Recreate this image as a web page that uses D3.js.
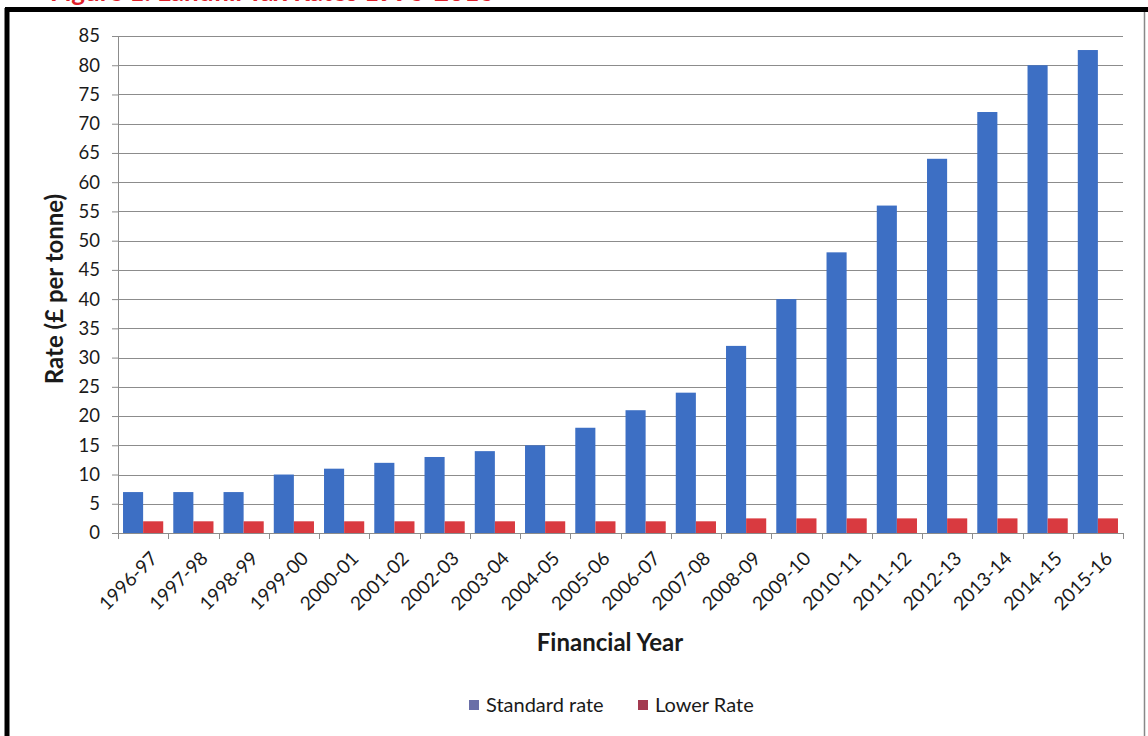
<!DOCTYPE html>
<html><head><meta charset="utf-8">
<script src="https://cdn.jsdelivr.net/npm/d3@7"></script>
<style>
html,body{margin:0;padding:0;background:#fff;}
svg{display:block;}
text{font-family:Lato,"Open Sans",sans-serif;fill:#1a1a1a;}
</style></head>
<body>
<svg id="chart" width="1148" height="736"></svg>
<script>
const categories = ["1996-97","1997-98","1998-99","1999-00","2000-01","2001-02","2002-03","2003-04","2004-05","2005-06","2006-07","2007-08","2008-09","2009-10","2010-11","2011-12","2012-13","2013-14","2014-15","2015-16"];
const standardRate = [7,7,7,10,11,12,13,14,15,18,21,24,32,40,48,56,64,72,80,82.6];
const lowerRate = [2,2,2,2,2,2,2,2,2,2,2,2,2.5,2.5,2.5,2.5,2.5,2.5,2.5,2.5];
const seriesNames = ["Standard rate","Lower Rate"];
const yTicks = d3.range(0, 86, 5);

const svg = d3.select("#chart");
const W = 1148, H = 736;
const m = {left:118, right:1123, top:36, bottom:533};

// partially cut-off title at top (only its lower edge is visible in the reference)
svg.append("text").attr("x",50).attr("y",1)
  .style("font-weight","bold").style("font-size","26px").style("fill","#e0202a")
  .text("Figure 1: Landfill Tax Rates 1996-2016");

// frame
svg.append("line").attr("x1",7).attr("x2",7).attr("y1",8).attr("y2",H).attr("stroke","#000").attr("stroke-width",5);
svg.append("line").attr("x1",5).attr("x2",W).attr("y1",9.5).attr("y2",9.5).attr("stroke","#000").attr("stroke-width",5);
svg.append("line").attr("x1",1144.5).attr("x2",1144.5).attr("y1",12).attr("y2",H).attr("stroke","#888").attr("stroke-width",1.5);

const x0 = d3.scaleBand().domain(categories).range([m.left, m.right]).padding(0);
const x1 = d3.scaleBand().domain(seriesNames).range([0, x0.bandwidth()]).paddingInner(0).paddingOuter(0.25);
const y = d3.scaleLinear().domain([0,85]).range([m.bottom, m.top]);

// gridlines
svg.append("g").selectAll("line").data(yTicks.filter(d=>d>0)).join("line")
  .attr("x1",m.left).attr("x2",m.right)
  .attr("y1",d=>Math.round(y(d))+0.5).attr("y2",d=>Math.round(y(d))+0.5)
  .attr("stroke","#8c8c8c").attr("stroke-width",1);

const colors = {"Standard rate":"#3d6fc4","Lower Rate":"#d93a40"};
const legendColors = {"Standard rate":"#6a6fa8","Lower Rate":"#a33a50"};

const groups = svg.append("g").selectAll("g").data(categories).join("g")
  .attr("transform",d=>`translate(${x0(d)},0)`);
groups.selectAll("rect").data((d,i)=>[
    {s:"Standard rate", v:standardRate[i]},
    {s:"Lower Rate", v:lowerRate[i]}])
  .join("rect")
  .attr("x",d=>x1(d.s)).attr("width",x1.bandwidth())
  .attr("y",d=>y(d.v)).attr("height",d=>y(0)-y(d.v))
  .attr("fill",d=>colors[d.s]);

// y axis
const yAxis = d3.axisLeft(y).tickValues(yTicks).tickSize(6).tickPadding(12).tickFormat(d3.format("d"));
const gy = svg.append("g").attr("transform",`translate(${m.left},0)`).call(yAxis);
gy.select(".domain").attr("stroke","#8c8c8c");
gy.selectAll(".tick line").attr("stroke","#8c8c8c");
gy.selectAll(".tick text").style("font-size","18.5px").style("fill","#1a1a1a").style("font-family","Lato,sans-serif");

// x axis
const xAxis = d3.axisBottom(x0).tickSize(0).tickFormat("");
const gx = svg.append("g").attr("transform",`translate(0,${m.bottom})`).call(xAxis);
gx.select(".domain").attr("stroke","#8c8c8c");
gx.selectAll(".tick").remove();
const bounds = categories.map(c=>x0(c)).concat([m.right]);
gx.selectAll("line.tk").data(bounds).join("line").attr("class","tk")
  .attr("x1",d=>Math.round(d)+0.5).attr("x2",d=>Math.round(d)+0.5)
  .attr("y1",0).attr("y2",6).attr("stroke","#8c8c8c");

svg.append("g").selectAll("text").data(categories).join("text")
  .attr("transform",d=>`translate(${x0(d)+x0.bandwidth()/2+11},${m.bottom+22}) rotate(-45)`)
  .attr("text-anchor","end").attr("dy","0.35em")
  .style("font-size","19px")
  .text(d=>d);

// axis titles
svg.append("text").attr("transform",`translate(63,289) rotate(-90)`)
  .attr("text-anchor","middle").style("font-weight","bold").style("font-size","24px")
  .text("Rate (£ per tonne)");
svg.append("text").attr("x",610).attr("y",651).attr("text-anchor","middle")
  .style("font-weight","bold").style("font-size","24px").text("Financial Year");

// legend
const legend = svg.append("g");
const legendItems = [{s:"Standard rate", x:469},{s:"Lower Rate", x:638}];
legendItems.forEach(it=>{
  legend.append("rect").attr("x",it.x).attr("y",700).attr("width",10).attr("height",10).attr("fill",legendColors[it.s]);
  legend.append("text").attr("x",it.x+17).attr("y",712).style("font-size","20px").text(it.s);
});
</script>
</body></html>
